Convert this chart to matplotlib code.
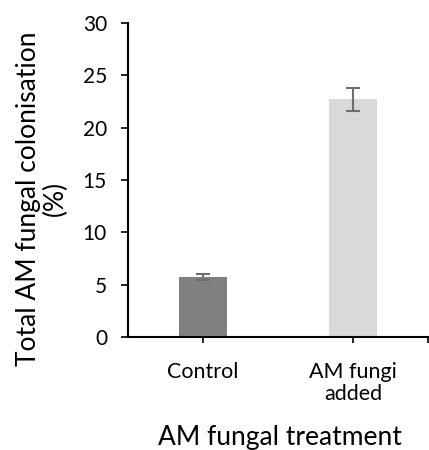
import numpy as np
import matplotlib.pyplot as plt

plt.rcParams['font.family'] = ['Lato', 'DejaVu Sans']

# Colonisation by treatment (mean and error)
treatments = ['Control', 'AM fungi\nadded']
colonisation = [5.7, 22.7]
errors = [0.28, 1.1]
bar_colors = ['#808080', '#d9d9d9']

fig = plt.figure(figsize=(4.29, 4.5), dpi=100)
ax = fig.add_axes([0.298, 0.251, 0.70, 0.698])

x = np.arange(len(treatments))
ax.bar(x, colonisation, width=0.32, color=bar_colors, zorder=2)
ax.errorbar(x, colonisation, yerr=errors, fmt='none', ecolor='#6e6e6e',
            elinewidth=1.5, capsize=4.7, capthick=1.5, zorder=3)

ax.set_xlim(-0.5, 1.5)
ax.set_ylim(0, 30)
ax.set_yticks(range(0, 31, 5))
ax.set_xticks(x)
ax.set_xticks([1.5], minor=True)
ax.set_xticklabels(treatments, fontsize=15.5, linespacing=1.1)
ax.tick_params(axis='y', labelsize=15, length=5, width=1.2, direction='out', pad=10)
ax.tick_params(axis='x', which='both', length=4, width=1.2, direction='out', pad=14)

for side in ['top', 'right']:
    ax.spines[side].set_visible(False)
for side in ['left', 'bottom']:
    ax.spines[side].set_linewidth(1.5)

fig.text(0.098, 0.558, 'Total AM fungal colonisation\n(%)', fontsize=19,
         rotation=90, ha='center', va='center', multialignment='center',
         linespacing=1.05)
fig.text(0.653, 0.028, 'AM fungal treatment', fontsize=19, ha='center', va='center')

fig.savefig('out.png', dpi=100)
